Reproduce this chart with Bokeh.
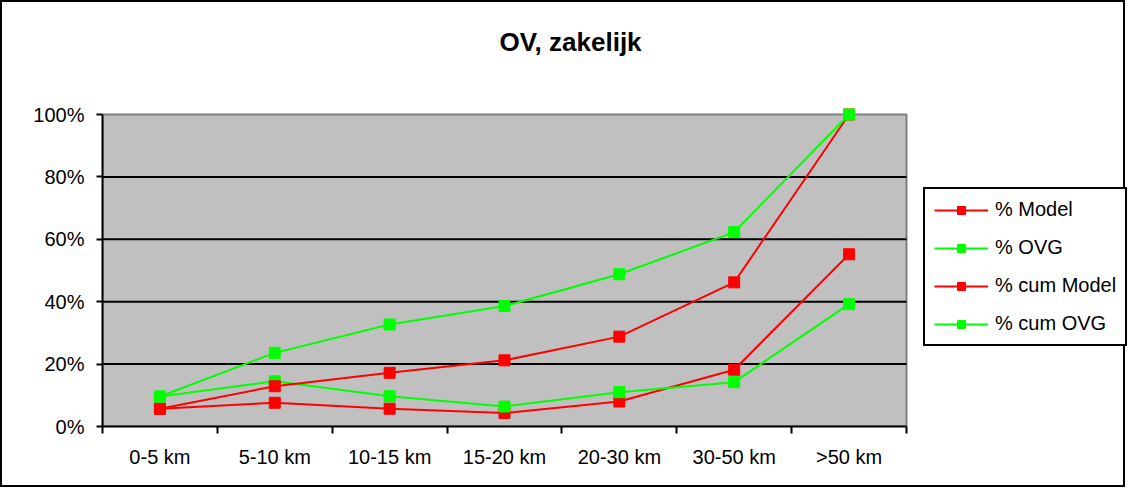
from bokeh.plotting import figure
from bokeh.models import (FixedTicker, Legend, LegendItem, Label, PrintfTickFormatter, Range1d)
from bokeh.embed import file_html
from bokeh.resources import INLINE

categories = ["0-5 km", "5-10 km", "10-15 km", "15-20 km", "20-30 km", "30-50 km", ">50 km"]
pct_model = [5.7, 7.6, 5.7, 4.3, 8.0, 18.2, 55.2]
pct_ovg = [9.6, 14.5, 9.7, 6.4, 11.0, 14.2, 39.2]
pct_cum_model = [5.7, 12.9, 17.2, 21.2, 28.8, 46.2, 100.0]
pct_cum_ovg = [9.6, 23.6, 32.7, 38.6, 48.8, 62.3, 100.0]
y_ticks = [0, 20, 40, 60, 80, 100]
grid_vals = [20, 40, 60, 80]

FONT = "Liberation Sans"
RED = "#FF0000"
GREEN = "#00FF00"

n = len(categories)
xs = [i + 0.5 for i in range(n)]

# Layout: canvas 1125x487; plot area spans 804px (n categories) x 312px (0..100%)
W, H = 1125, 487
LEFT, BOTTOM = 100, 63
PX_X = 804 / n
PX_Y = 312 / 100
x_max = (W - LEFT) / PX_X
y_max = (H - BOTTOM) / PX_Y

p = figure(width=W, height=H, output_backend="svg", toolbar_location=None,
           x_range=Range1d(0, x_max), y_range=Range1d(0, y_max),
           min_border_left=LEFT, min_border_right=0, min_border_top=0, min_border_bottom=BOTTOM)
p.styles = {"border": "2px solid black"}
p.background_fill_color = "white"
p.border_fill_color = "white"
p.outline_line_color = None
p.grid.visible = False

# axes
p.yaxis.bounds = (0, 100)
p.yaxis.ticker = FixedTicker(ticks=y_ticks)
p.yaxis.formatter = PrintfTickFormatter(format="%d%%")
p.yaxis.axis_line_color = "black"
p.yaxis.axis_line_width = 2
p.yaxis.major_tick_line_color = "black"
p.yaxis.major_tick_line_width = 2
p.yaxis.major_tick_out = 6
p.yaxis.major_tick_in = 0
p.yaxis.minor_tick_line_color = None
p.yaxis.major_label_standoff = 12
p.yaxis.major_label_text_font = FONT
p.yaxis.major_label_text_font_size = "20px"
p.yaxis.major_label_text_color = "black"

p.xaxis.bounds = (0, n)
p.xaxis.ticker = FixedTicker(ticks=xs, minor_ticks=list(range(n + 1)))
p.xaxis.major_label_overrides = {x: c for x, c in zip(xs, categories)}
p.xaxis.axis_line_color = "black"
p.xaxis.axis_line_width = 2
p.xaxis.major_tick_line_color = None
p.xaxis.major_tick_out = 0
p.xaxis.major_tick_in = 0
p.xaxis.minor_tick_line_color = "black"
p.xaxis.minor_tick_line_width = 2
p.xaxis.minor_tick_out = 7
p.xaxis.minor_tick_in = 0
p.xaxis.major_label_standoff = 12
p.xaxis.major_label_text_font = FONT
p.xaxis.major_label_text_font_size = "20px"
p.xaxis.major_label_text_color = "black"

# plot area background and grid
p.quad(left=[0], right=[n], bottom=[0], top=[100], fill_color="#C0C0C0",
       line_color="#808080", line_width=2)
p.segment(x0=[0] * len(grid_vals), x1=[n] * len(grid_vals), y0=grid_vals, y1=grid_vals,
          line_color="black", line_width=2)

series = [("% Model", pct_model, RED), ("% OVG", pct_ovg, GREEN),
          ("% cum Model", pct_cum_model, RED), ("% cum OVG", pct_cum_ovg, GREEN)]
items = []
for name, vals, col in series:
    l = p.line(xs, vals, line_color=col, line_width=2)
    m = p.scatter(xs, vals, marker="square", size=11, fill_color=col, line_color=col)
    items.append(LegendItem(label=name, renderers=[l, m]))

legend = Legend(items=items, location=(821, 80), orientation="vertical",
                border_line_color="black", border_line_width=2, border_line_alpha=1.0,
                background_fill_color="white", background_fill_alpha=1.0,
                label_text_font=FONT, label_text_font_size="20px", label_text_color="black",
                glyph_width=54, glyph_height=20, label_height=20, spacing=15,
                padding=9, margin=0, label_standoff=7)
p.add_layout(legend)

title = Label(x=468, y=385, x_units="screen", y_units="screen", text="OV, zakelijk",
              text_font=FONT, text_font_style="bold", text_font_size="26px",
              text_align="center", text_baseline="middle", text_color="black")
p.add_layout(title)

open("out.html", "w").write(file_html(p, INLINE))
